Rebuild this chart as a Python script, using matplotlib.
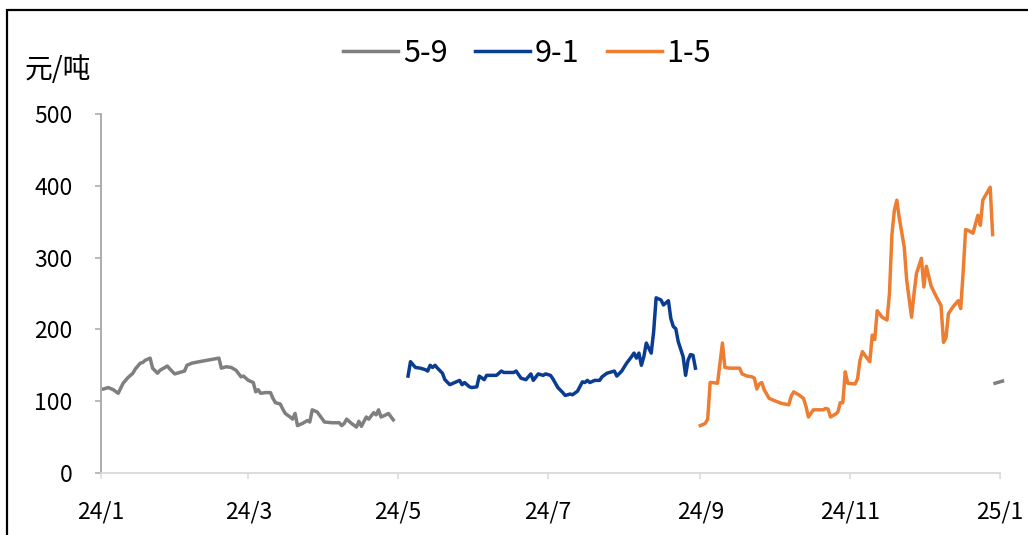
import matplotlib
matplotlib.use("Agg")
import matplotlib.pyplot as plt
from matplotlib.patches import Rectangle
import pandas as pd

plt.rcParams['font.family'] = ['Noto Sans CJK SC', 'DejaVu Sans']

# 5-9 spread (gray)
dates_59 = ["2024-01-02", "2024-01-04", "2024-01-06", "2024-01-08", "2024-01-10", "2024-01-12",
            "2024-01-14", "2024-01-15", "2024-01-17", "2024-01-18", "2024-01-19", "2024-01-21",
            "2024-01-22", "2024-01-24", "2024-01-25", "2024-01-28", "2024-01-29", "2024-01-31",
            "2024-02-02", "2024-02-04", "2024-02-05", "2024-02-07", "2024-02-10", "2024-02-18",
            "2024-02-19", "2024-02-21", "2024-02-23", "2024-02-25", "2024-02-27", "2024-02-28",
            "2024-03-01", "2024-03-03", "2024-03-04", "2024-03-05", "2024-03-06", "2024-03-08",
            "2024-03-10", "2024-03-11", "2024-03-12", "2024-03-14", "2024-03-15", "2024-03-16",
            "2024-03-18", "2024-03-19", "2024-03-20", "2024-03-21", "2024-03-23", "2024-03-25",
            "2024-03-26", "2024-03-27", "2024-03-29", "2024-04-01", "2024-04-04", "2024-04-07",
            "2024-04-08", "2024-04-09", "2024-04-10", "2024-04-12", "2024-04-14", "2024-04-15",
            "2024-04-16", "2024-04-18", "2024-04-19", "2024-04-21", "2024-04-22", "2024-04-23",
            "2024-04-24", "2024-04-26", "2024-04-27", "2024-04-29"]
values_59 = [117, 119, 116, 111, 125, 133,
             139, 145, 153, 154, 157, 160,
             146, 139, 143, 149, 145, 138,
             140, 142, 150, 153, 155, 160,
             146, 148, 147, 143, 134, 135,
             129, 126, 113, 116, 111, 112,
             112, 104, 98, 96, 89, 83,
             78, 75, 83, 66, 69, 73,
             71, 88, 85, 71, 70, 70,
             66, 69, 75, 69, 64, 72,
             65, 78, 75, 84, 81, 88,
             78, 81, 83, 74]

# 5-9 spread, new contract (gray tail)
dates_59b = ["2024-12-30", "2025-01-02"]
values_59b = [125, 128]

# 9-1 spread (blue)
dates_91 = ["2024-05-05", "2024-05-06", "2024-05-08", "2024-05-10", "2024-05-12", "2024-05-13",
            "2024-05-14", "2024-05-15", "2024-05-16", "2024-05-17", "2024-05-19", "2024-05-20",
            "2024-05-22", "2024-05-24", "2024-05-26", "2024-05-27", "2024-05-28", "2024-05-30",
            "2024-05-31", "2024-06-02", "2024-06-03", "2024-06-05", "2024-06-06", "2024-06-08",
            "2024-06-10", "2024-06-12", "2024-06-13", "2024-06-17", "2024-06-18", "2024-06-20",
            "2024-06-22", "2024-06-24", "2024-06-25", "2024-06-27", "2024-06-29", "2024-06-30",
            "2024-07-02", "2024-07-03", "2024-07-05", "2024-07-07", "2024-07-08", "2024-07-10",
            "2024-07-11", "2024-07-13", "2024-07-15", "2024-07-16", "2024-07-17", "2024-07-18",
            "2024-07-20", "2024-07-22", "2024-07-23", "2024-07-25", "2024-07-27", "2024-07-28",
            "2024-07-29", "2024-07-31", "2024-08-02", "2024-08-04", "2024-08-05", "2024-08-06",
            "2024-08-07", "2024-08-08", "2024-08-09", "2024-08-10", "2024-08-12", "2024-08-13",
            "2024-08-14", "2024-08-16", "2024-08-17", "2024-08-19", "2024-08-20", "2024-08-21",
            "2024-08-22", "2024-08-23", "2024-08-25", "2024-08-26", "2024-08-27", "2024-08-28",
            "2024-08-29", "2024-08-30"]
values_91 = [135, 155, 147, 146, 144, 142,
             150, 147, 150, 146, 139, 130,
             123, 126, 129, 123, 126, 120,
             119, 120, 135, 130, 136, 136,
             136, 142, 140, 140, 142, 132,
             130, 138, 129, 138, 136, 138,
             136, 131, 119, 112, 108, 110,
             109, 114, 127, 126, 129, 126,
             129, 129, 134, 139, 141, 142,
             135, 142, 153, 162, 167, 160,
             167, 150, 162, 181, 167, 197,
             244, 241, 234, 240, 215, 204,
             201, 183, 162, 136, 157, 165,
             164, 146]

# 1-5 spread (orange)
dates_15 = ["2024-09-01", "2024-09-03", "2024-09-04", "2024-09-05", "2024-09-06", "2024-09-08",
            "2024-09-10", "2024-09-11", "2024-09-13", "2024-09-15", "2024-09-17", "2024-09-18",
            "2024-09-20", "2024-09-22", "2024-09-23", "2024-09-24", "2024-09-25", "2024-09-26",
            "2024-09-27", "2024-09-29", "2024-10-01", "2024-10-04", "2024-10-07", "2024-10-08",
            "2024-10-09", "2024-10-11", "2024-10-13", "2024-10-14", "2024-10-15", "2024-10-17",
            "2024-10-19", "2024-10-21", "2024-10-22", "2024-10-23", "2024-10-24", "2024-10-26",
            "2024-10-27", "2024-10-28", "2024-10-29", "2024-10-30", "2024-10-31", "2024-11-03",
            "2024-11-04", "2024-11-05", "2024-11-06", "2024-11-07", "2024-11-09", "2024-11-10",
            "2024-11-11", "2024-11-12", "2024-11-14", "2024-11-16", "2024-11-17", "2024-11-18",
            "2024-11-19", "2024-11-20", "2024-11-21", "2024-11-23", "2024-11-24", "2024-11-26",
            "2024-11-27", "2024-11-28", "2024-11-30", "2024-12-01", "2024-12-02", "2024-12-04",
            "2024-12-06", "2024-12-08", "2024-12-09", "2024-12-10", "2024-12-11", "2024-12-13",
            "2024-12-15", "2024-12-16", "2024-12-17", "2024-12-18", "2024-12-19", "2024-12-21",
            "2024-12-23", "2024-12-24", "2024-12-25", "2024-12-28", "2024-12-29"]
values_15 = [66, 69, 75, 126, 126, 125,
             181, 147, 146, 146, 146, 138,
             135, 134, 132, 117, 124, 126,
             116, 104, 101, 97, 95, 107,
             113, 109, 104, 93, 78, 88,
             88, 88, 90, 89, 78, 82,
             85, 98, 98, 141, 125, 124,
             131, 157, 169, 164, 155, 192,
             186, 226, 217, 213, 250, 332,
             366, 380, 355, 315, 269, 217,
             250, 278, 299, 259, 288, 260,
             246, 233, 182, 188, 222, 232,
             240, 229, 280, 339, 338, 334,
             359, 345, 380, 398, 332]

series_labels = ["5-9", "9-1", "1-5"]
series_colors = ["#7F7F7F", "#0A3D91", "#ED7D31"]
y_ticks = [0, 100, 200, 300, 400, 500]
x_ticks = ["2024-01-01", "2024-03-01", "2024-05-01", "2024-07-01", "2024-09-01", "2024-11-01", "2025-01-01"]
x_tick_labels = ["24/1", "24/3", "24/5", "24/7", "24/9", "24/11", "25/1"]
y_unit = "元/吨"

fig = plt.figure(figsize=(10.28, 5.35), dpi=100)
ax = fig.add_axes([101 / 1028, 1 - 473 / 535, 899 / 1028, 359 / 535])

lw = 2.5
l1, = ax.plot(pd.to_datetime(dates_59), values_59, color=series_colors[0], lw=lw, clip_on=False,
              solid_joinstyle='round')
ax.plot(pd.to_datetime(dates_59b), values_59b, color=series_colors[0], lw=lw, clip_on=False)
l2, = ax.plot(pd.to_datetime(dates_91), values_91, color=series_colors[1], lw=lw, clip_on=False,
              solid_joinstyle='round')
l3, = ax.plot(pd.to_datetime(dates_15), values_15, color=series_colors[2], lw=lw, clip_on=False,
              solid_joinstyle='round')

ax.set_xlim(pd.Timestamp("2024-01-01"), pd.Timestamp("2025-01-01"))
ax.set_ylim(0, 500)
ax.set_yticks(y_ticks)
ax.set_xticks(pd.to_datetime(x_ticks))
ax.set_xticklabels(x_tick_labels)

for s in ["top", "right"]:
    ax.spines[s].set_visible(False)
ax.spines["left"].set_color("#A6A6A6")
ax.spines["left"].set_linewidth(1.3)
ax.spines["bottom"].set_color("#D9D9D9")
ax.spines["bottom"].set_linewidth(1.3)
ax.tick_params(axis="y", length=4.5, width=1.1, color="#A6A6A6", labelsize=16.5, pad=16, labelcolor="black")
ax.tick_params(axis="x", length=4.5, width=1.1, color="#D9D9D9", labelsize=16.5, pad=15, labelcolor="black")

fig.text(25 / 1028, 1 - 70 / 535, y_unit, fontsize=20, ha="left", va="center")

fig.legend([l1, l2, l3], series_labels, loc="center", bbox_to_anchor=(527 / 1028, 1 - 53 / 535),
           ncol=3, frameon=False, fontsize=22, handlelength=1.8, handletextpad=0.15,
           columnspacing=0.9, borderpad=0)

# outer frame
fig.patches.append(Rectangle((7 / 1028, -0.1), 1.2, 1 - 10 / 535 + 0.1, transform=fig.transFigure,
                             fill=False, edgecolor="black", linewidth=1.6))

fig.savefig("out.png", dpi=100)
